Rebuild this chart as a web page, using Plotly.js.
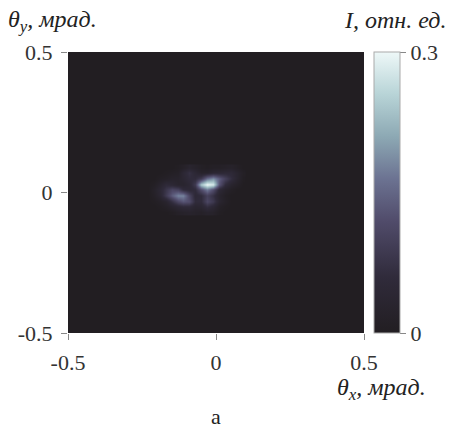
<!DOCTYPE html>
<html><head><meta charset="utf-8">
<script src="https://cdn.plot.ly/plotly-3.0.1.min.js"></script>
<style>html,body{margin:0;padding:0;background:#fff;}</style>
</head><body>
<div id="chart" style="width:451px;height:428px;"></div>
<script>
// theta_x grid (mrad) of the intensity patch
const thetaX = [-0.23,-0.21,-0.19,-0.17,-0.15,-0.13,-0.11,-0.09,-0.07,-0.05,-0.03,-0.01,0.01,0.03,0.05,0.07,0.09];
// theta_y grid (mrad)
const thetaY = [-0.07,-0.05,-0.03,-0.01,0.01,0.03,0.05,0.07,0.09];
// relative intensity I (rows follow thetaY, columns follow thetaX)
const intensity = [
  [0,0,0,0,0.005,0.015,0.02,0.025,0.02,0.015,0.025,0.02,0.005,0,0,0,0],
  [0,0,0.005,0.015,0.03,0.045,0.055,0.055,0.035,0.04,0.065,0.045,0.015,0.005,0,0,0],
  [0,0.005,0.015,0.03,0.07,0.11,0.13,0.12,0.06,0.06,0.11,0.085,0.035,0.015,0,0,0],
  [0,0.015,0.04,0.09,0.14,0.18,0.18,0.11,0.05,0.06,0.10,0.07,0.03,0.01,0,0,0],
  [0,0.02,0.045,0.08,0.11,0.10,0.06,0.05,0.06,0.12,0.17,0.12,0.05,0.025,0.01,0,0],
  [0,0.01,0.03,0.055,0.045,0.03,0.03,0.045,0.09,0.24,0.30,0.28,0.13,0.06,0.03,0.015,0],
  [0,0,0.01,0.015,0.025,0.025,0.04,0.06,0.06,0.09,0.16,0.19,0.14,0.10,0.065,0.03,0.005],
  [0,0,0,0.005,0.01,0.015,0.045,0.07,0.045,0.025,0.025,0.04,0.045,0.05,0.05,0.03,0.01],
  [0,0,0,0,0,0.005,0.015,0.03,0.02,0.01,0.005,0.01,0.01,0.015,0.02,0.01,0]
];
const axisTicks = [-0.5, 0, 0.5];
const axisTickText = ['-0.5', '0', '0.5'];
const cbarTicks = [0, 0.3];
const cbarTickText = ['0', '0.3'];

const bg = '#221e22';
const serif = 'Liberation Serif, serif';

const trace = {
  type: 'heatmap',
  x: thetaX, y: thetaY, z: intensity,
  zmin: 0, zmax: 0.3,
  zsmooth: 'best',
  colorscale: [
    [0, bg],[0.2,'#302b3b'],[0.4,'#514c6b'],[0.55,'#6c7392'],
    [0.7,'#8da9b4'],[0.85,'#b8d4d7'],[1,'#eef8f8']
  ],
  hoverinfo: 'skip',
  colorbar: {
    x: 1.033, xanchor: 'left', xpad: 0, ypad: 0,
    y: 0.5, yanchor: 'middle', len: 1, lenmode: 'fraction',
    thickness: 26, thicknessmode: 'pixels',
    outlinewidth: 1, outlinecolor: '#aaaaaa',
    ticks: 'outside', ticklen: 6, tickcolor: '#888',
    tickvals: cbarTicks, ticktext: cbarTickText,
    tickfont: {family: serif, size: 22, color: '#333'}
  }
};

const layout = {
  width: 451, height: 428,
  margin: {l: 68, r: 84, t: 52, b: 95},
  paper_bgcolor: '#fff', plot_bgcolor: bg,
  font: {family: serif},
  showlegend: false,
  xaxis: {
    range: [-0.5, 0.5], tickvals: axisTicks, ticktext: axisTickText,
    ticks: 'outside', ticklen: 6, tickcolor: '#888',
    showgrid: false, zeroline: false, showline: false,
    ticklabelstandoff: 4,
    tickfont: {family: serif, size: 22, color: '#333'}
  },
  yaxis: {
    range: [-0.5, 0.5], tickvals: axisTicks, ticktext: axisTickText,
    ticks: 'outside', ticklen: 6, tickcolor: '#888',
    showgrid: false, zeroline: false, showline: false,
    ticklabelstandoff: 4,
    tickfont: {family: serif, size: 22, color: '#333'}
  },
  annotations: [
    {text: '<i>θ<sub>y</sub>, мрад.</i>', xref: 'paper', yref: 'paper',
     x: -0.21, y: 1.05, xanchor: 'left', yanchor: 'bottom', showarrow: false,
     font: {family: serif, size: 24, color: '#222'}},
    {text: '<i>I, отн. ед.</i>', xref: 'paper', yref: 'paper',
     x: 1.285, y: 1.06, xanchor: 'right', yanchor: 'bottom', showarrow: false,
     font: {family: serif, size: 24, color: '#222'}},
    {text: '<i>θ<sub>x</sub>, мрад.</i>', xref: 'paper', yref: 'paper',
     x: 1.216, y: -0.138, xanchor: 'right', yanchor: 'top', showarrow: false,
     font: {family: serif, size: 24, color: '#222'}},
    {text: 'а', xref: 'paper', yref: 'paper',
     x: 0.5, y: -0.245, xanchor: 'center', yanchor: 'top', showarrow: false,
     font: {family: serif, size: 22, color: '#222'}}
  ]
};

Plotly.newPlot('chart', [trace], layout, {displayModeBar: false, staticPlot: true});
</script>
</body></html>
